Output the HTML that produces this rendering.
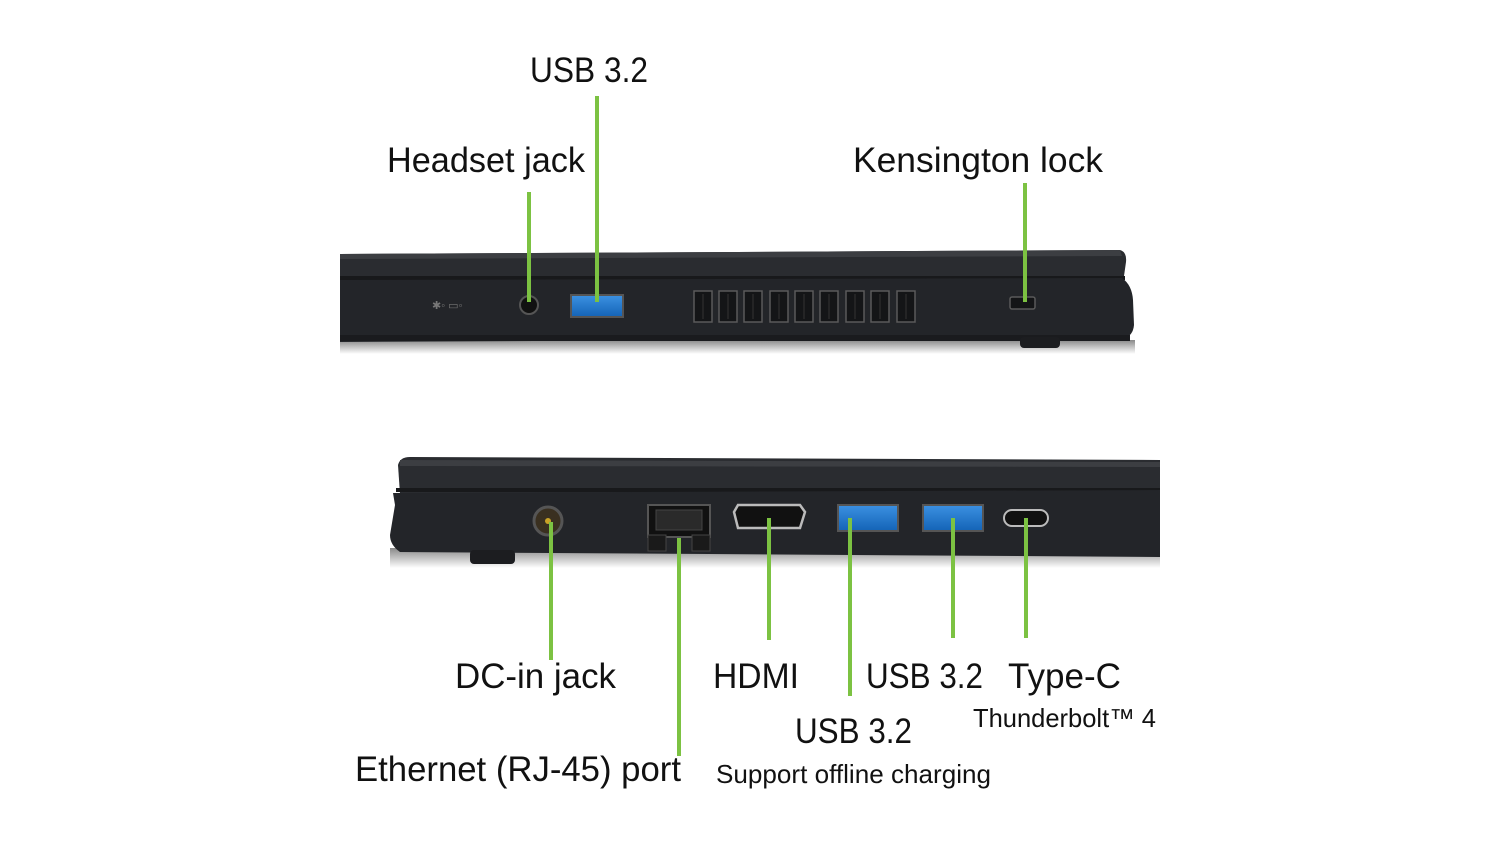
<!DOCTYPE html>
<html><head><meta charset="utf-8"><style>html,body{margin:0;padding:0;background:#fff}svg{display:block}text{font-family:"Liberation Sans",sans-serif;fill:#111}</style></head><body>
<svg width="1500" height="844" viewBox="0 0 1500 844" xmlns="http://www.w3.org/2000/svg">
<defs>
<linearGradient id="sh" x1="0" y1="0" x2="0" y2="1"><stop offset="0" stop-color="#888"/><stop offset="1" stop-color="#fff"/></linearGradient>
<linearGradient id="usb" x1="0" y1="0" x2="0" y2="1"><stop offset="0" stop-color="#3a8fe0"/><stop offset="1" stop-color="#1565b8"/></linearGradient>
</defs>
<!-- TOP LAPTOP -->
<rect x="340" y="340" width="795" height="14" fill="url(#sh)"/>
<path d="M340 254 L1120 250 Q1127 252 1126 262 L1124 276 L1124 282 L340 282 Z" fill="#2a2c30"/>
<path d="M340 254 L1120 250 L1122 256 L340 259 Z" fill="#3c3e42"/>
<rect x="340" y="276" width="785" height="4" fill="#18191b"/>
<path d="M340 280 L1122 278 Q1132 285 1133 300 L1134 325 Q1133 336 1124 338 L340 342 Z" fill="#232529"/>
<rect x="340" y="335" width="790" height="6" fill="#1a1b1e"/>
<rect x="1020" y="337" width="40" height="11" rx="4" fill="#1c1d20"/>
<circle cx="529" cy="305" r="9" fill="#111" stroke="#555" stroke-width="2"/>
<rect x="570" y="294" width="54" height="24" fill="#555"/>
<rect x="572" y="296" width="50" height="20" fill="url(#usb)"/>
<g fill="#141517" stroke="#5a5a5a" stroke-width="1.5">
<rect x="694" y="291" width="18" height="31"/><rect x="719" y="291" width="18" height="31"/><rect x="744" y="291" width="18" height="31"/><rect x="770" y="291" width="18" height="31"/><rect x="795" y="291" width="18" height="31"/><rect x="820" y="291" width="18" height="31"/><rect x="846" y="291" width="18" height="31"/><rect x="871" y="291" width="18" height="31"/><rect x="897" y="291" width="18" height="31"/>
<rect x="1010" y="297" width="25" height="12" rx="2"/>
</g>
<g stroke="#333" stroke-width="1">
<line x1="703" y1="294" x2="703" y2="319"/><line x1="728" y1="294" x2="728" y2="319"/><line x1="753" y1="294" x2="753" y2="319"/><line x1="779" y1="294" x2="779" y2="319"/><line x1="804" y1="294" x2="804" y2="319"/><line x1="829" y1="294" x2="829" y2="319"/><line x1="855" y1="294" x2="855" y2="319"/><line x1="880" y1="294" x2="880" y2="319"/><line x1="906" y1="294" x2="906" y2="319"/>
</g>
<text x="432" y="309" font-size="11" style="fill:#777">✱◦ ▭◦</text>
<!-- BOTTOM LAPTOP -->
<rect x="390" y="548" width="770" height="20" fill="url(#sh)"/>
<path d="M398 465 Q400 457 410 457 L1160 460 L1160 494 L400 494 Z" fill="#2a2c30"/>
<path d="M400 460 L1160 462 L1160 467 L400 466 Z" fill="#3c3e42"/>
<rect x="396" y="488" width="764" height="4" fill="#18191b"/>
<path d="M393 493 L1160 490 L1160 557 L400 552 Q390 545 390 535 L395 505 Z" fill="#232529"/>
<rect x="470" y="550" width="45" height="14" rx="4" fill="#1c1d20"/>
<circle cx="548" cy="521" r="14" fill="#3a3020" stroke="#555" stroke-width="3"/>
<circle cx="548" cy="521" r="3" fill="#c9a227"/>
<rect x="648" y="505" width="62" height="32" fill="#111" stroke="#555" stroke-width="2"/>
<rect x="656" y="510" width="46" height="20" fill="#2a2a2a" stroke="#444"/>
<rect x="648" y="535" width="18" height="16" fill="#1a1a1a" stroke="#444"/>
<rect x="692" y="535" width="18" height="16" fill="#1a1a1a" stroke="#444"/>
<path d="M738 505 L800 505 L805 512 L800 528 L738 528 L734 512 Z" fill="#111" stroke="#bbb" stroke-width="2.5"/>
<rect x="837" y="504" width="62" height="28" fill="#555"/><rect x="839" y="506" width="58" height="24" fill="url(#usb)"/>
<rect x="922" y="504" width="62" height="28" fill="#555"/><rect x="924" y="506" width="58" height="24" fill="url(#usb)"/>
<rect x="1004" y="510" width="44" height="16" rx="8" fill="#111" stroke="#bbb" stroke-width="2"/>
<!-- GREEN LINES -->
<g stroke="#7cc242" stroke-width="4">
<line x1="529" y1="192" x2="529" y2="302"/>
<line x1="597" y1="96" x2="597" y2="302"/>
<line x1="1025" y1="183" x2="1025" y2="302"/>
<line x1="551" y1="522" x2="551" y2="660"/>
<line x1="679" y1="538" x2="679" y2="756"/>
<line x1="769" y1="518" x2="769" y2="640"/>
<line x1="850" y1="518" x2="850" y2="696"/>
<line x1="953" y1="518" x2="953" y2="638"/>
<line x1="1026" y1="518" x2="1026" y2="638"/>
</g>
<!-- LABELS -->
<g font-size="35">
<text x="530" y="82" textLength="118" lengthAdjust="spacingAndGlyphs">USB 3.2</text>
<text x="387" y="172" textLength="198" lengthAdjust="spacingAndGlyphs">Headset jack</text>
<text x="853" y="172" textLength="250" lengthAdjust="spacingAndGlyphs">Kensington lock</text>
<text x="455" y="688" textLength="161" lengthAdjust="spacingAndGlyphs">DC-in jack</text>
<text x="713" y="688" textLength="86" lengthAdjust="spacingAndGlyphs">HDMI</text>
<text x="866" y="688" textLength="117" lengthAdjust="spacingAndGlyphs">USB 3.2</text>
<text x="1008" y="688" textLength="113" lengthAdjust="spacingAndGlyphs">Type-C</text>
<text x="795" y="743" textLength="117" lengthAdjust="spacingAndGlyphs">USB 3.2</text>
<text x="355" y="781" textLength="326" lengthAdjust="spacingAndGlyphs">Ethernet (RJ-45) port</text>
</g>
<g font-size="26">
<text x="973" y="727" textLength="183" lengthAdjust="spacingAndGlyphs">Thunderbolt™ 4</text>
<text x="716" y="783" textLength="275" lengthAdjust="spacingAndGlyphs">Support offline charging</text>
</g>
</svg>
</body></html>
